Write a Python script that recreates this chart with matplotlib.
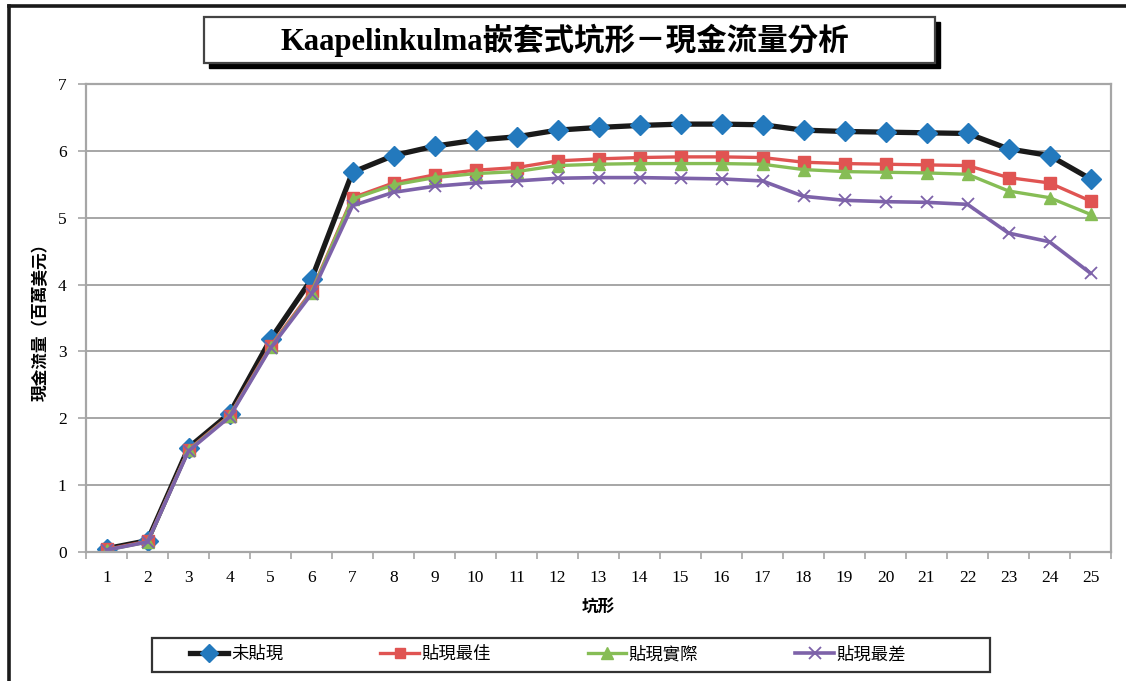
import matplotlib
matplotlib.use("Agg")
import matplotlib.pyplot as plt
from matplotlib.patches import Rectangle
from matplotlib.lines import Line2D

plt.rcParams['font.family'] = ['Liberation Serif', 'Noto Sans CJK TC']

categories = list(range(1, 26))
series_names = ['未貼現', '貼現最佳', '貼現實際', '貼現最差']
undiscounted = [0.05, 0.17, 1.56, 2.07, 3.18, 4.08, 5.68, 5.93, 6.07, 6.16, 6.21, 6.31, 6.35,
                6.38, 6.40, 6.40, 6.39, 6.31, 6.29, 6.28, 6.27, 6.26, 6.03, 5.93, 5.58]
best = [0.04, 0.16, 1.53, 2.04, 3.08, 3.90, 5.30, 5.52, 5.64, 5.71, 5.75, 5.85, 5.88,
        5.90, 5.91, 5.91, 5.90, 5.83, 5.81, 5.80, 5.79, 5.78, 5.60, 5.52, 5.25]
actual = [0.03, 0.15, 1.52, 2.03, 3.06, 3.88, 5.28, 5.49, 5.60, 5.66, 5.69, 5.78, 5.80,
          5.81, 5.81, 5.81, 5.80, 5.72, 5.69, 5.68, 5.67, 5.65, 5.40, 5.30, 5.05]
worst = [0.03, 0.15, 1.51, 2.02, 3.05, 3.86, 5.18, 5.38, 5.47, 5.52, 5.55, 5.59, 5.60,
         5.60, 5.59, 5.58, 5.55, 5.32, 5.26, 5.24, 5.23, 5.20, 4.77, 4.64, 4.17]
y_ticks = [0, 1, 2, 3, 4, 5, 6, 7]
title = 'Kaapelinkulma嵌套式坑形－現金流量分析'
x_label = '坑形'
y_label = '現金流量（百萬美元）'

W, H = 1126, 681
fig = plt.figure(figsize=(W / 100, H / 100), dpi=100)
fig.patch.set_facecolor('white')

ax = fig.add_axes([86 / W, 1 - 552 / H, (1111 - 86) / W, (552 - 84) / H])
grid_c = '#A6A6A6'

styles = [
    dict(color='#1A1A1A', lw=3.8, marker='D', ms=10, mfc='#2379BD', mec='#2379BD'),
    dict(color='#E05452', lw=2.4, marker='s', ms=8.5, mfc='#E05452', mec='#E05452'),
    dict(color='#86BD55', lw=2.4, marker='^', ms=9, mfc='#86BD55', mec='#86BD55'),
    dict(color='#7D62A9', lw=2.6, marker='x', ms=9, mfc='#7D62A9', mec='#7D62A9', mew=1.3),
]
handles = []
for name, vals, st in zip(series_names, [undiscounted, best, actual, worst], styles):
    ln, = ax.plot(categories, vals, label=name, solid_joinstyle='round', **st)
    handles.append(ln)

ax.set_xlim(0.5, 25.5)
ax.set_ylim(0, 7)
ax.set_yticks(y_ticks)
ax.set_xticks(categories)
ax.set_xticks([c + 0.5 for c in [0] + categories], minor=True)
ax.tick_params(axis='x', which='major', length=0, pad=13, labelsize=12.5)
ax.tick_params(axis='x', which='minor', length=5, width=1.2, color=grid_c, direction='out')
ax.tick_params(axis='y', length=6, width=1.2, color=grid_c, pad=8, labelsize=12.5)
ax.yaxis.grid(True, color=grid_c, lw=1.4)
ax.set_axisbelow(True)
for s in ax.spines.values():
    s.set_color(grid_c)
    s.set_linewidth(1.6)

ax.set_xlabel(x_label, fontsize=12, fontweight='bold', labelpad=10)
ax.set_ylabel(y_label, fontsize=12, fontweight='bold', labelpad=6)

# outer frame
fig.add_artist(Line2D([9 / W, 9 / W], [0, 1 - 6 / H], transform=fig.transFigure, color='#1A1A1A', lw=2.6))
fig.add_artist(Line2D([9 / W, 1], [1 - 6 / H, 1 - 6 / H], transform=fig.transFigure, color='#1A1A1A', lw=2.6))

# title box with shadow
tx0, tx1, ty0, ty1 = 204, 935, 17, 63
fig.add_artist(Rectangle(((tx0 + 5) / W, 1 - (ty1 + 5) / H), (tx1 - tx0) / W, (ty1 - ty0) / H,
                         transform=fig.transFigure, facecolor='black', edgecolor='black'))
fig.add_artist(Rectangle((tx0 / W, 1 - ty1 / H), (tx1 - tx0) / W, (ty1 - ty0) / H,
                         transform=fig.transFigure, facecolor='white', edgecolor='#444444', lw=1.6))
fig.text(565 / W, 1 - (ty0 + ty1) / 2 / H, title, ha='center', va='center',
         fontsize=22, fontweight='bold')

# legend
lx0, lx1, ly0, ly1 = 152, 990, 638, 672
leg = fig.legend(handles=handles, loc='center', ncol=4,
                 bbox_to_anchor=((lx0 - 23) / W, 1 - ly1 / H, (lx1 - lx0) / W, (ly1 - ly0) / H),
                 frameon=False, fontsize=12.5, handlelength=2.2,
                 handletextpad=0.15, columnspacing=5.6, markerscale=0.9)
fig.add_artist(Rectangle((lx0 / W, 1 - ly1 / H), (lx1 - lx0) / W, (ly1 - ly0) / H,
                         transform=fig.transFigure, facecolor='none', edgecolor='#333333', lw=1.6))

fig.savefig('out.png', dpi=100)
